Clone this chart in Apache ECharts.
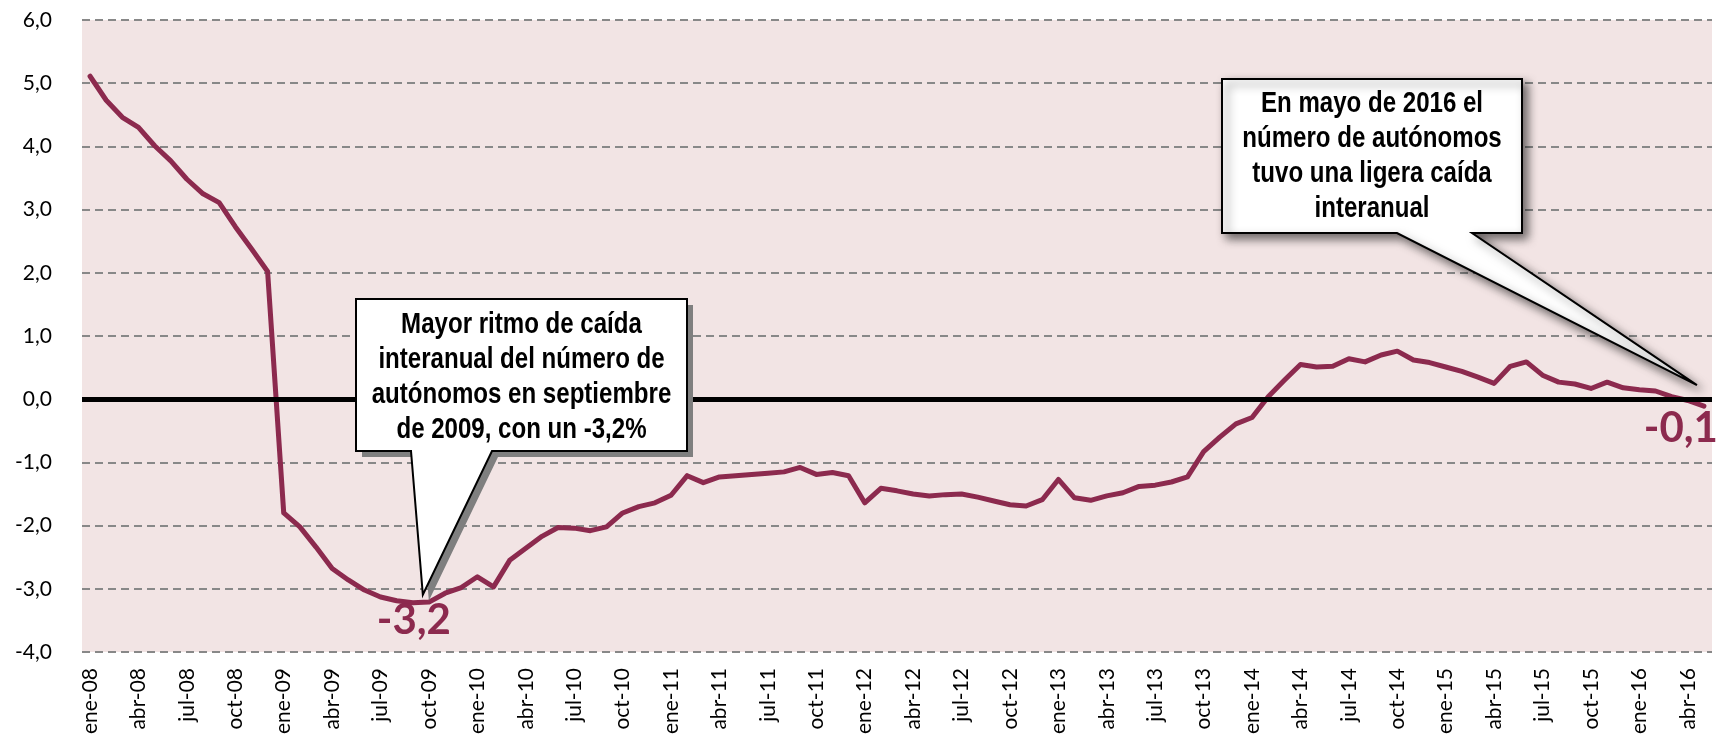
<!DOCTYPE html>
<html>
<head>
<meta charset="utf-8">
<script src="https://cdn.jsdelivr.net/npm/echarts@6/dist/echarts.min.js"></script>
<style>html,body{margin:0;padding:0;background:#fff;}#c{width:1719px;height:735px;}</style>
</head>
<body>
<div id="c"></div>
<script>
const months = ['ene','feb','mar','abr','may','jun','jul','ago','sep','oct','nov','dic'];
const categories = [];
for (let y = 8; y <= 16; y++) {
  for (let m = 0; m < 12; m++) {
    if (y === 16 && m > 4) break;
    categories.push(months[m] + '-' + String(y).padStart(2, '0'));
  }
}
const values = [
  5.11, 4.73, 4.46, 4.30, 4.01, 3.77, 3.48, 3.25, 3.11, 2.73, 2.38, 2.02,
  -1.80, -2.02, -2.34, -2.68, -2.86, -3.02, -3.13, -3.19, -3.22, -3.21, -3.07, -2.98,
  -2.81, -2.97, -2.55, -2.36, -2.17, -2.03, -2.04, -2.08, -2.02, -1.80, -1.70, -1.64,
  -1.52, -1.21, -1.32, -1.23, -1.21, -1.19, -1.17, -1.15, -1.08, -1.19, -1.16, -1.21,
  -1.64, -1.41, -1.45, -1.50, -1.53, -1.51, -1.50, -1.55, -1.61, -1.67, -1.69, -1.59,
  -1.27, -1.56, -1.60, -1.53, -1.48, -1.38, -1.36, -1.31, -1.23, -0.83, -0.60, -0.39,
  -0.29, 0.04, 0.30, 0.55, 0.51, 0.52, 0.64, 0.59, 0.70, 0.76, 0.62, 0.58,
  0.51, 0.44, 0.35, 0.25, 0.52, 0.59, 0.38, 0.27, 0.24, 0.17, 0.27, 0.18,
  0.15, 0.13, 0.04, -0.02, -0.11
];
const yTicks = { min: -4, max: 6, interval: 1 };
const minIndex = 20;      // sep-09
const lastIndex = values.length - 1; // may-16
const note1 = ['Mayor ritmo de caída', 'interanual del número de', 'autónomos en septiembre', 'de 2009, con un -3,2%'];
const note2 = ['En mayo de 2016 el', 'número de autónomos', 'tuvo una ligera caída', 'interanual'];

const lineColor = '#8C2A4E';
const chart = echarts.init(document.getElementById('c'), null, { renderer: 'canvas' });
const fmt = v => v.toFixed(1).replace('.', ',');

chart.setOption({
  animation: false,
  grid: { left: 82, right: 7, top: 20, bottom: 83, show: true, backgroundColor: '#F2E4E4', borderWidth: 0, outerBoundsMode: 'none' },
  xAxis: {
    type: 'category',
    data: categories,
    boundaryGap: true,
    axisLine: { show: false },
    axisTick: { show: false },
    splitLine: { show: false },
    axisLabel: {
      interval: 2,
      rotate: 90,
      margin: 16,
      color: '#000',
      fontFamily: 'Lato, sans-serif',
      fontSize: 21
    }
  },
  yAxis: {
    type: 'value',
    min: yTicks.min, max: yTicks.max, interval: yTicks.interval,
    axisLine: { show: false },
    axisTick: { show: false },
    axisLabel: {
      formatter: fmt,
      margin: 30,
      color: '#000',
      fontFamily: 'Lato, sans-serif',
      fontSize: 21
    },
    splitLine: { show: true, lineStyle: { color: '#888', width: 2, type: [8, 5] } }
  },
  series: [
    {
      type: 'line',
      data: [],
      z: 1,
      silent: true,
      markLine: {
        silent: true,
        symbol: 'none',
        label: { show: false },
        lineStyle: { color: '#000', width: 5, type: 'solid' },
        data: [{ yAxis: 0 }]
      }
    },
    {
      type: 'line',
      data: values,
      z: 3,
      symbol: 'none',
      lineStyle: { color: lineColor, width: 5, join: 'round', cap: 'round' },
      itemStyle: { color: lineColor }
    }
  ]
});

function callout(box, base, tip, lines, textTop, solidShadow) {
  const pts = [
    [box.x1, box.y1], [box.x2, box.y1], [box.x2, box.y2],
    [base[1], box.y2], tip, [base[0], box.y2], [box.x1, box.y2]
  ];
  const els = [];
  if (solidShadow) {
    els.push({
      type: 'polygon', z: 10,
      shape: { points: pts.map(p => [p[0] + 6, p[1] + 6]) },
      style: { fill: '#7f7f7f' }
    });
  }
  els.push({
    type: 'polygon', z: 11,
    shape: { points: pts },
    style: solidShadow
      ? { fill: '#fff', stroke: '#000', lineWidth: 2 }
      : { fill: '#fff', stroke: '#000', lineWidth: 2, shadowBlur: 10, shadowOffsetX: 5, shadowOffsetY: 5, shadowColor: 'rgba(0,0,0,0.55)' }
  });
  lines.forEach((t, i) => {
    els.push({
      type: 'text', z: 12,
      x: (box.x1 + box.x2) / 2,
      y: textTop + i * 35,
      scaleX: 0.83,
      style: {
        text: t, align: 'center', verticalAlign: 'middle',
        fill: '#000', fontFamily: "'Liberation Sans', Arial, sans-serif",
        fontWeight: 'bold', fontSize: 29
      }
    });
  });
  return els;
}

const pMin = chart.convertToPixel({ gridIndex: 0 }, [minIndex, values[minIndex]]);
const pLast = chart.convertToPixel({ gridIndex: 0 }, [lastIndex, values[lastIndex]]);

const graphics = []
  .concat(callout({ x1: 356, y1: 299, x2: 687, y2: 451 }, [411, 492], [pMin[0] + 10, pMin[1] - 8], note1, 325, true))
  .concat(callout({ x1: 1222, y1: 79, x2: 1522, y2: 233 }, [1397, 1472], [pLast[0] - 7, pLast[1] - 21], note2, 104, false));

graphics.push({
  type: 'text', z: 13,
  x: pMin[0] + 1, y: pMin[1] + 18,
  style: { text: fmt(values[minIndex]), align: 'center', verticalAlign: 'middle', fill: lineColor, fontFamily: 'Lato, sans-serif', fontWeight: 'bold', fontSize: 42 }
});
graphics.push({
  type: 'text', z: 13,
  x: pLast[0] + 14, y: pLast[1] + 22,
  style: { text: fmt(values[lastIndex]), align: 'right', verticalAlign: 'middle', fill: lineColor, fontFamily: 'Lato, sans-serif', fontWeight: 'bold', fontSize: 42 }
});

chart.setOption({ graphic: { elements: graphics } });
</script>
</body>
</html>
